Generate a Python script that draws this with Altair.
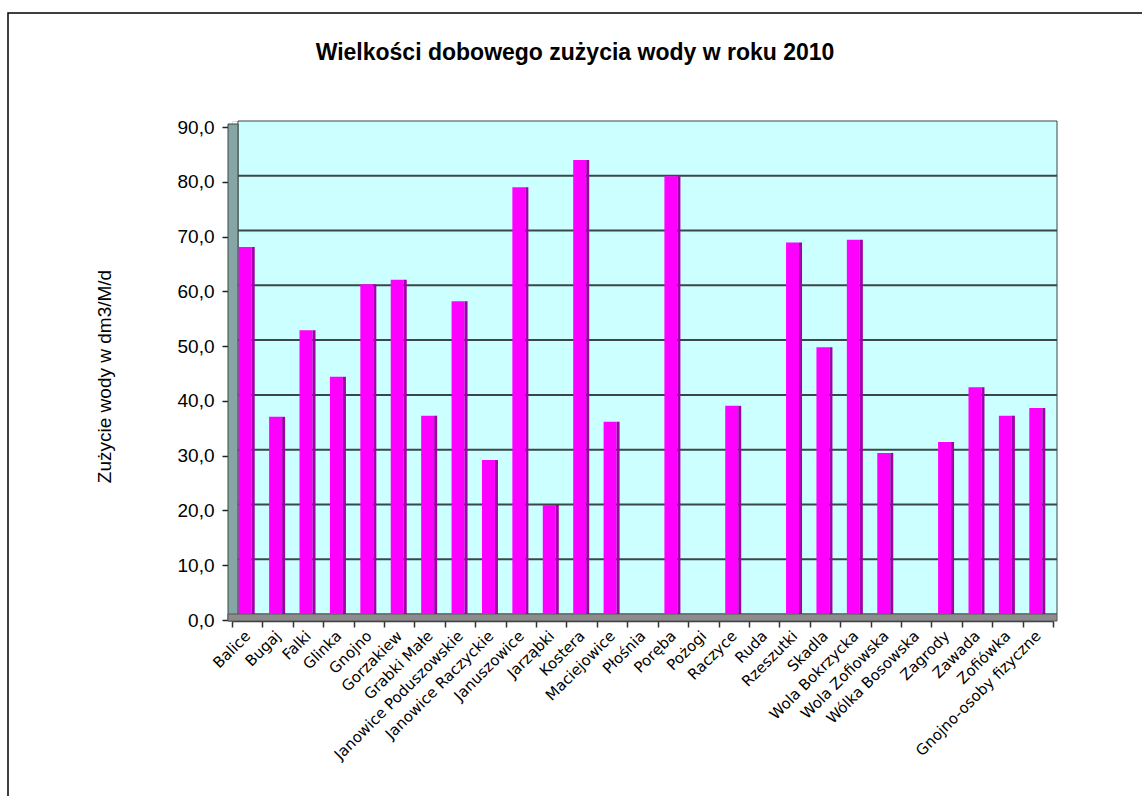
import altair as alt
import pandas as pd

# Daily water consumption per locality, year 2010 (dm3 per resident per day)
localities = [
    "Balice", "Bugaj", "Falki", "Glinka", "Gnojno", "Gorzakiew", "Grabki Małe",
    "Janowice Poduszowskie", "Janowice Raczyckie", "Januszowice", "Jarząbki",
    "Kostera", "Maciejowice", "Płośnia", "Poręba", "Pożogi", "Raczyce", "Ruda",
    "Rzeszutki", "Skadla", "Wola Bokrzycka", "Wola Zofiowska", "Wólka Bosowska",
    "Zagrody", "Zawada", "Zofiówka", "Gnojno-osoby fizyczne",
]
consumption = [
    67.0, 36.0, 51.8, 43.3, 60.2, 61.0, 36.2,
    57.1, 28.1, 77.9, 19.9,
    82.9, 35.1, 0.0, 79.9, 0.0, 38.0, 0.0,
    67.8, 48.7, 68.3, 29.4, 0.0,
    31.4, 41.4, 36.2, 37.6,
]
grid_values = [10, 20, 30, 40, 50, 60, 70, 80]
tick_values = [0, 10, 20, 30, 40, 50, 60, 70, 80, 90]
chart_title = "Wielkości dobowego zużycia wody w roku 2010"

W, H = 821, 493

bars_df = pd.DataFrame({"miejscowosc": localities, "zuzycie": consumption})
grid_df = pd.DataFrame({"zuzycie": grid_values})
one = pd.DataFrame({"k": [0]})

x_axis = alt.Axis(title=None, orient="bottom", offset=7,
                  domainColor="#333333", domainWidth=1.5,
                  tickColor="#333333", tickSize=6, tickWidth=1.5,
                  tickBand="extent",
                  labelAngle=315, labelAlign="right",
                  labelBaseline="middle", labelPadding=6,
                  labelFont="DejaVu Sans", labelFontSize=15,
                  labelColor="#000000")
y_axis = alt.Axis(title="Zużycie wody w dm3/M/d", orient="left",
                  offset=4, grid=False, domain=False,
                  values=tick_values,
                  labelExpr="replace(format(datum.value, '.1f'), '.', ',')",
                  tickOffset=6, tickSize=6, tickWidth=1.5,
                  tickColor="#222222",
                  labelFont="Liberation Sans", labelFontSize=19,
                  labelColor="#000000", labelPadding=8,
                  titleFont="Liberation Sans", titleFontSize=19,
                  titleFontWeight="normal", titleColor="#000000",
                  titleAngle=270, titleX=-124, titleY=255,
                  titleAlign="center", titleBaseline="middle")

x_scale = alt.Scale(domain=localities, paddingInner=0.0, paddingOuter=0.0)
y_scale = alt.Scale(domain=[0, 90], nice=False, zero=True)

x_enc = alt.X("miejscowosc:N", sort=localities, scale=x_scale, axis=x_axis)
y_enc = alt.Y("zuzycie:Q", scale=y_scale, axis=y_axis)

# outer chart frame (right and bottom edges run past the canvas)
frame = alt.Chart(one).mark_rect(fill="white", fillOpacity=0, stroke="#000000",
                                 strokeWidth=1.5).encode(
    x=alt.value(-224), x2=alt.value(930), y=alt.value(-108), y2=alt.value(700))

# chart heading
heading = alt.Chart(one).mark_text(text=chart_title, font="Liberation Sans",
                                   fontSize=23, fontWeight="bold",
                                   color="#000000", align="center",
                                   baseline="alphabetic").encode(
    x=alt.value(575 - 232), y=alt.value(60 - 121))

# back wall
back = alt.Chart(one).mark_rect(fill="#ccffff", stroke="#3a4444",
                                strokeWidth=1).encode(
    x=alt.value(6), x2=alt.value(825), y=alt.value(0), y2=alt.value(H))

# left side wall
side = alt.Chart(one).mark_rect(fill="#86a6a6", stroke="#3a4444",
                                strokeWidth=1).encode(
    x=alt.value(-4), x2=alt.value(6), y=alt.value(3), y2=alt.value(H + 7))

# floor
floor = alt.Chart(one).mark_rect(fill="#8c8c8c", stroke="#555555",
                                 strokeWidth=1).encode(
    x=alt.value(-4), x2=alt.value(825), y=alt.value(H), y2=alt.value(H + 7))

grid = alt.Chart(grid_df).mark_rule(color="#3c4646", strokeWidth=2).encode(
    y=y_enc, x=alt.value(6), x2=alt.value(825))

bar_front = alt.Chart(bars_df).mark_bar(width=13, xOffset=-2,
                                        color="#ff00ff").encode(
    x=x_enc, y=y_enc)
bar_side = alt.Chart(bars_df).mark_bar(width=3, xOffset=6,
                                       color="#a000a8").encode(
    x=x_enc, y=y_enc)

chart = alt.layer(frame, heading, back, side, floor, grid, bar_front,
                  bar_side).properties(
    width=W, height=H,
    autosize=alt.AutoSizeParams(type="none"),
    padding={"left": 232, "top": 121, "right": 89, "bottom": 182},
).configure_view(stroke=None).configure(background="white")

chart.save("out.html", embed_options={"renderer": "svg", "actions": False})
